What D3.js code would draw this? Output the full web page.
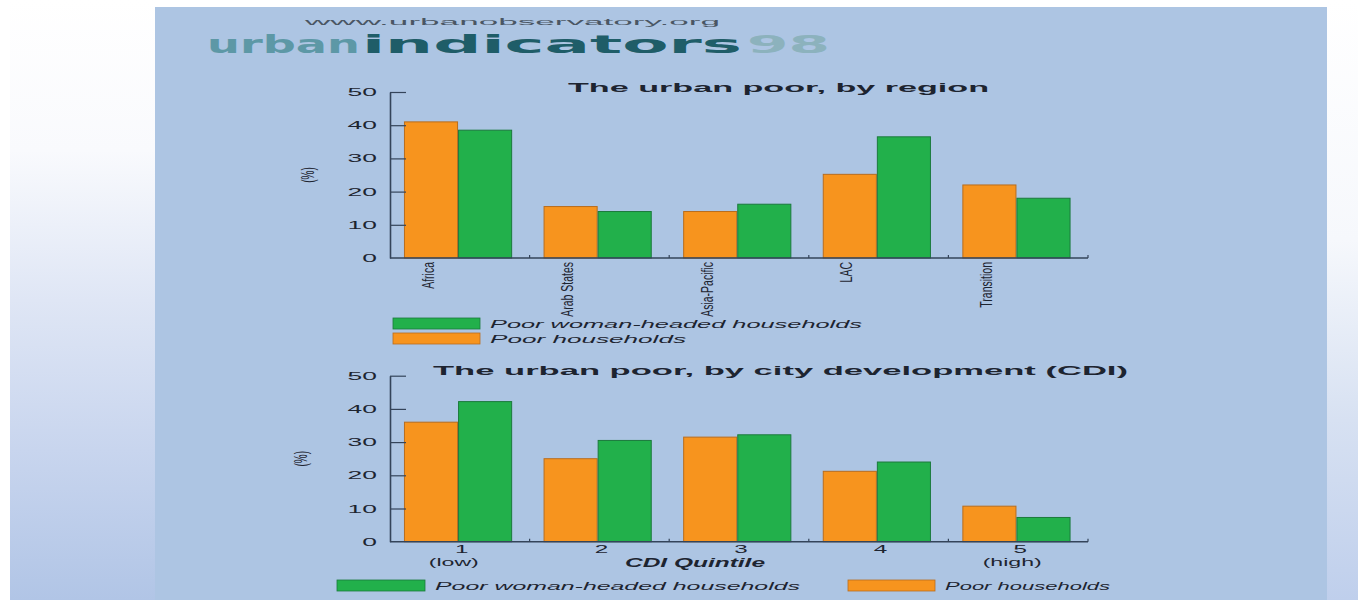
<!DOCTYPE html>
<html>
<head>
<meta charset="utf-8">
<script src="https://cdn.jsdelivr.net/npm/d3@7"></script>
<style>
  html, body { margin: 0; padding: 0; background: #ffffff; }
  svg { display: block; }
</style>
</head>
<body>
<script>
// ---- data ----
const regions = ["Africa", "Arab States", "Asia-Pacific", "LAC", "Transition"];
const regionPoor = [41, 15.5, 14, 25.2, 22];
const regionWomen = [38.5, 14, 16.2, 36.5, 18];

const quintiles = ["1", "2", "3", "4", "5"];
const quintileNotes = ["(low)", "", "", "", "(high)"];
const cdiPoor = [36, 25, 31.5, 21.2, 10.7];
const cdiWomen = [42.2, 30.5, 32.2, 24, 7.3];

const yTicks = [0, 10, 20, 30, 40, 50];
const seriesKeys = ["poor", "women"];
const seriesNames = { women: "Poor woman-headed households", poor: "Poor households" };

// ---- styling ----
const W = 1358, H = 600;
const colors = { poor: "#f7941e", women: "#22b04b" };
const edges = { poor: "#b86d1e", women: "#1b7a3c" };
const inkColor = "#1d2430";
const axisColor = "#34445a";
const font = "'Liberation Sans', Arial, sans-serif";

const svg = d3.select("body").append("svg")
  .attr("width", W).attr("height", H);

// widen a text run horizontally, either by a factor or to a fixed length
function stretch(sel, k, fixed) {
  sel.each(function () {
    const w = fixed != null ? fixed : this.getComputedTextLength() * k;
    this.setAttribute("textLength", w);
    this.setAttribute("lengthAdjust", "spacingAndGlyphs");
  });
  return sel;
}

// ---- page background ----
const defs = svg.append("defs");
const leftGrad = defs.append("linearGradient").attr("id", "leftFade")
  .attr("x1", 0).attr("y1", 0).attr("x2", 0).attr("y2", 1);
[[0, "#ffffff"], [0.25, "#f9fafd"], [0.5, "#dfe6f5"], [0.75, "#c8d5ee"], [1, "#b1c5e6"]]
  .forEach(([o, c]) => leftGrad.append("stop").attr("offset", o).attr("stop-color", c));
const rightGrad = defs.append("linearGradient").attr("id", "rightFade")
  .attr("x1", 0).attr("y1", 0).attr("x2", 0).attr("y2", 1);
[[0, "#ffffff"], [0.4, "#f6f8fc"], [0.7, "#d7e1f2"], [1, "#bfcfec"]]
  .forEach(([o, c]) => rightGrad.append("stop").attr("offset", o).attr("stop-color", c));

svg.append("rect").attr("x", 10).attr("y", 0).attr("width", 145).attr("height", H)
  .attr("fill", "url(#leftFade)");
svg.append("rect").attr("x", 1327).attr("y", 0).attr("width", W - 1327).attr("height", H)
  .attr("fill", "url(#rightFade)");
svg.append("rect").attr("x", 155).attr("y", 7).attr("width", 1172).attr("height", H - 7)
  .attr("fill", "#adc5e3");

// ---- masthead ----
stretch(svg.append("text").attr("x", 305).attr("y", 25)
  .attr("font-family", font).attr("font-size", 8.5).attr("fill", "#4a5664")
  .text("www.urbanobservatory.org"), 1, 415);

const mast = [
  { t: "urban", x: 207, len: 153, fill: "#5d98a6" },
  { t: "indicators", x: 362, len: 380, fill: "#1f5d68" },
  { t: "98", x: 747, len: 83, fill: "#8cb2bd" }
];
mast.forEach(m => {
  svg.append("text")
    .attr("transform", `translate(${m.x},53) scale(1,1.25)`)
    .attr("font-family", "'DejaVu Sans', sans-serif").attr("font-weight", "bold")
    .attr("font-size", 20).attr("fill", m.fill).text(m.t)
    .call(s => stretch(s, 1, m.len));
});

// ---- one grouped bar chart ----
function barChart(cfg) {
  const g = svg.append("g");
  const y = d3.scaleLinear().domain([0, 50]).range([cfg.zeroY, cfg.topY]);
  const x0 = d3.scaleBand().domain(cfg.cats).range([390, 1088]);
  const bw = x0.bandwidth();
  const x1 = d3.scaleBand().domain(seriesKeys).range([bw * 0.1, bw * 0.875]);

  const rows = cfg.cats.map((c, i) => ({ cat: c, poor: cfg.poor[i], women: cfg.women[i] }));

  // bars
  const groups = g.selectAll("g.grp").data(rows).join("g")
    .attr("class", "grp")
    .attr("transform", d => `translate(${x0(d.cat)},0)`);
  groups.selectAll("rect").data(d => seriesKeys.map(k => ({ key: k, value: d[k] })))
    .join("rect")
    .attr("x", d => x1(d.key) + 0.5)
    .attr("width", x1.bandwidth() - 1)
    .attr("y", d => y(d.value))
    .attr("height", d => cfg.zeroY - y(d.value))
    .attr("fill", d => colors[d.key])
    .attr("stroke", d => edges[d.key])
    .attr("stroke-width", 1);

  // y axis
  const yAxis = g.append("g").attr("transform", "translate(390,0)")
    .call(d3.axisLeft(y).tickValues(yTicks).tickSizeInner(-16).tickSizeOuter(0).tickPadding(13));
  yAxis.select(".domain").attr("stroke", axisColor).attr("stroke-width", 1.6);
  yAxis.selectAll(".tick line").attr("stroke", axisColor).attr("stroke-width", 1.2);
  stretch(yAxis.selectAll(".tick text")
    .attr("font-family", font).attr("font-size", 11).attr("fill", inkColor), 2.4);
  yAxis.selectAll(".tick").filter(d => d === 0).select("line").remove();

  // x axis baseline with small marks between groups
  g.append("line").attr("x1", 390).attr("x2", 1088)
    .attr("y1", cfg.zeroY).attr("y2", cfg.zeroY)
    .attr("stroke", axisColor).attr("stroke-width", 1.6);
  g.selectAll("line.sep").data(cfg.cats).join("line").attr("class", "sep")
    .attr("x1", d => x0(d) + bw).attr("x2", d => x0(d) + bw)
    .attr("y1", cfg.zeroY).attr("y2", cfg.zeroY - 3)
    .attr("stroke", axisColor).attr("stroke-width", 1.2);

  // title
  stretch(g.append("text").attr("x", cfg.titleX).attr("y", cfg.titleY)
    .attr("font-family", font).attr("font-weight", "bold").attr("font-size", 13)
    .attr("fill", inkColor).text(cfg.title), 1, cfg.titleLen);

  // y label
  g.append("text")
    .attr("transform", `translate(${cfg.yLabelX},${(cfg.zeroY + cfg.topY) / 2}) rotate(-90) scale(1,1.9)`)
    .attr("text-anchor", "middle").attr("dy", "0.35em")
    .attr("font-family", font).attr("font-size", 10).attr("fill", inkColor)
    .text("(%)");

  return { g, x0, bw, y };
}

// upper chart: by region
const regionChart = barChart({
  cats: regions, poor: regionPoor, women: regionWomen,
  topY: 92, zeroY: 258,
  title: "The urban poor, by region", titleX: 568, titleY: 92, titleLen: 421,
  yLabelX: 307
});
regionChart.g.selectAll("text.cat").data(regions).join("text").attr("class", "cat")
  .attr("transform", d => `translate(${regionChart.x0(d) + regionChart.bw * 0.27},262) rotate(-90) scale(1,1.6)`)
  .attr("text-anchor", "end").attr("dy", "0.35em")
  .attr("font-family", font).attr("font-size", 10.5).attr("fill", inkColor)
  .text(d => d);

// lower chart: by city development index quintile
const cdiChart = barChart({
  cats: quintiles, poor: cdiPoor, women: cdiWomen,
  topY: 375.7, zeroY: 541.7,
  title: "The urban poor, by city development (CDI)", titleX: 433, titleY: 375, titleLen: 695,
  yLabelX: 300
});
stretch(cdiChart.g.selectAll("text.q").data(quintiles).join("text").attr("class", "q")
  .attr("x", d => cdiChart.x0(d) + cdiChart.bw / 2 + 2).attr("y", 553)
  .attr("text-anchor", "middle")
  .attr("font-family", font).attr("font-size", 11).attr("fill", inkColor)
  .text(d => d), 2.2);
stretch(cdiChart.g.selectAll("text.qn").data(quintiles.filter((d, i) => quintileNotes[i])).join("text")
  .attr("class", "qn")
  .attr("x", d => cdiChart.x0(d) + cdiChart.bw / 2 - 6).attr("y", 566)
  .attr("text-anchor", "middle")
  .attr("font-family", font).attr("font-size", 11).attr("fill", inkColor)
  .text(d => quintileNotes[quintiles.indexOf(d)]), 2.1);
stretch(cdiChart.g.append("text").attr("x", 625).attr("y", 567)
  .attr("font-family", font).attr("font-size", 12).attr("font-style", "italic")
  .attr("font-weight", "bold").attr("fill", inkColor)
  .text("CDI Quintile"), 1, 140);

// ---- legends ----
function legendItem(key, sx, sy, sw, tx, tlen) {
  svg.append("rect").attr("x", sx).attr("y", sy).attr("width", sw).attr("height", 11)
    .attr("fill", colors[key]).attr("stroke", edges[key]).attr("stroke-width", 0.8);
  stretch(svg.append("text").attr("x", tx).attr("y", sy + 9.5)
    .attr("font-family", font).attr("font-size", 11).attr("font-style", "italic")
    .attr("fill", inkColor).text(seriesNames[key]), 1, tlen);
}
legendItem("women", 393, 318, 87, 490, 372);
legendItem("poor", 393, 333, 87, 490, 196);
legendItem("women", 337, 580, 88, 435, 365);
legendItem("poor", 848, 580, 87, 945, 165);
</script>
</body>
</html>
